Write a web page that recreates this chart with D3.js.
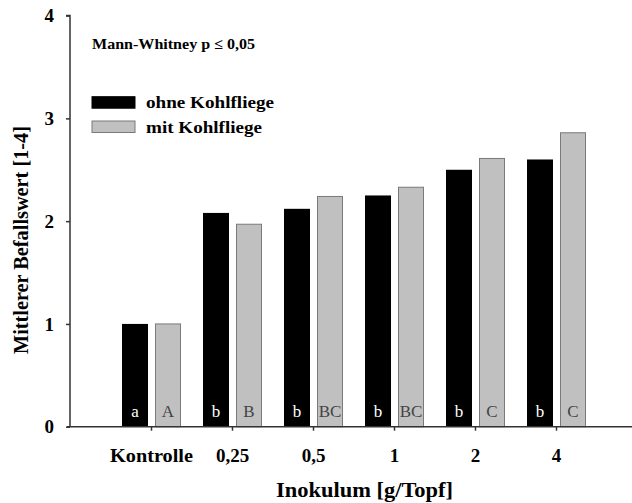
<!DOCTYPE html>
<html><head><meta charset="utf-8">
<script src="https://cdn.jsdelivr.net/npm/d3@7"></script>
<style>body{margin:0;background:#fff}svg{display:block}</style>
</head><body><svg id="c" width="632" height="503"></svg>
<script>
const categories = ["Kontrolle","0,25","0,5","1","2","4"];
const ohne = [1.00, 2.08, 2.12, 2.25, 2.50, 2.60];
const mit = [1.00, 1.97, 2.24, 2.33, 2.61, 2.86];
const lettersOhne = ["a","b","b","b","b","b"];
const lettersMit = ["A","B","BC","BC","C","C"];
const yTicks = [0,1,2,3,4];
const seriesNames = ["ohne Kohlfliege","mit Kohlfliege"];
const SERIF = '"Liberation Serif"';

const svg = d3.select("#c");
const y = d3.scaleLinear().domain([0,4]).range([426.7,15.6]);
const x = d3.scaleLinear().domain([0,7]).range([70,637]);

// bars
const g = svg.append("g");
g.selectAll("rect.o").data(ohne).join("rect")
  .attr("x",(d,i)=>x(i+1)-29).attr("width",26)
  .attr("y",d=>y(d)).attr("height",d=>y(0)-y(d))
  .attr("fill","#000");
g.selectAll("rect.m").data(mit).join("rect")
  .attr("x",(d,i)=>x(i+1)+4.5).attr("width",25)
  .attr("y",d=>y(d)).attr("height",d=>y(0)-y(d))
  .attr("fill","#c0c0c0").attr("stroke","#7a7a7a").attr("stroke-width",1);

// letters
g.selectAll("text.lo").data(lettersOhne).join("text")
  .attr("x",(d,i)=>x(i+1)-16).attr("y",417).attr("text-anchor","middle")
  .style("font-family",SERIF).style("font-size","17px").attr("fill","#fff").text(d=>d);
g.selectAll("text.lm").data(lettersMit).join("text")
  .attr("x",(d,i)=>x(i+1)+17).attr("y",417).attr("text-anchor","middle")
  .style("font-family",SERIF).style("font-size","17px").attr("fill","#444").text(d=>d);

// y axis
const ya = svg.append("g").attr("transform","translate(70,0)")
  .call(d3.axisLeft(y).tickValues(yTicks).tickSize(4).tickPadding(12).tickFormat(d3.format("d")));
ya.attr("font-family",null);
ya.select(".domain").attr("stroke","#333").attr("stroke-width",1.5).attr("d","M-4,15.6H0V426.7");
ya.selectAll(".tick line").attr("stroke","#333").attr("stroke-width",1.5);
ya.selectAll("text").style("font-size","19px").style("font-weight","bold").attr("fill","#000")
  .style("font-family",SERIF);

// x axis
const xa = svg.append("g").attr("transform","translate(0,426.7)")
  .call(d3.axisBottom(x).tickValues([1,2,3,4,5,6]).tickSize(4)
    .tickFormat(d=>categories[d-1]));
xa.attr("font-family",null);
xa.select(".domain").attr("stroke","#333").attr("stroke-width",1.5).attr("d","M67,0H632");
xa.selectAll(".tick line").attr("stroke","#333").attr("stroke-width",1.5);
xa.selectAll("text").attr("y",35).attr("dy",0).style("font-size","19px").style("font-weight","bold").attr("fill","#000")
  .style("font-family",SERIF);
xa.selectAll(".tick").filter(d=>d===1).select("text").attr("textLength",83).attr("lengthAdjust","spacingAndGlyphs");

// axis titles
svg.append("text").attr("x",364.5).attr("y",497).attr("text-anchor","middle")
  .style("font-family",SERIF).style("font-size","21px").style("font-weight","bold")
  .attr("textLength",177).attr("lengthAdjust","spacingAndGlyphs").text("Inokulum [g/Topf]");
svg.append("text").attr("transform","translate(28,240) rotate(-90)").attr("text-anchor","middle")
  .style("font-family",SERIF).style("font-size","20px").style("font-weight","bold")
  .attr("textLength",228).attr("lengthAdjust","spacingAndGlyphs").text("Mittlerer Befallswert [1-4]");

// annotation
svg.append("text").attr("x",92).attr("y",49)
  .style("font-family",SERIF).style("font-size","15px").style("font-weight","bold")
  .attr("textLength",163).attr("lengthAdjust","spacingAndGlyphs").text("Mann-Whitney p \u2264 0,05");

// legend
const leg = svg.append("g");
const legY = [96.7, 121];
const legW = [128, 116];
leg.selectAll("rect").data(seriesNames).join("rect")
  .attr("x",92).attr("y",(d,i)=>legY[i]).attr("width",43).attr("height",11.5)
  .attr("fill",(d,i)=>i?"#c0c0c0":"#000").attr("stroke",(d,i)=>i?"#7a7a7a":"#000");
leg.selectAll("text").data(seriesNames).join("text")
  .attr("x",146).attr("y",(d,i)=>legY[i]+11.5)
  .style("font-family",SERIF).style("font-size","17px").style("font-weight","bold")
  .attr("textLength",(d,i)=>legW[i]).attr("lengthAdjust","spacingAndGlyphs")
  .text(d=>d);
</script></body></html>
